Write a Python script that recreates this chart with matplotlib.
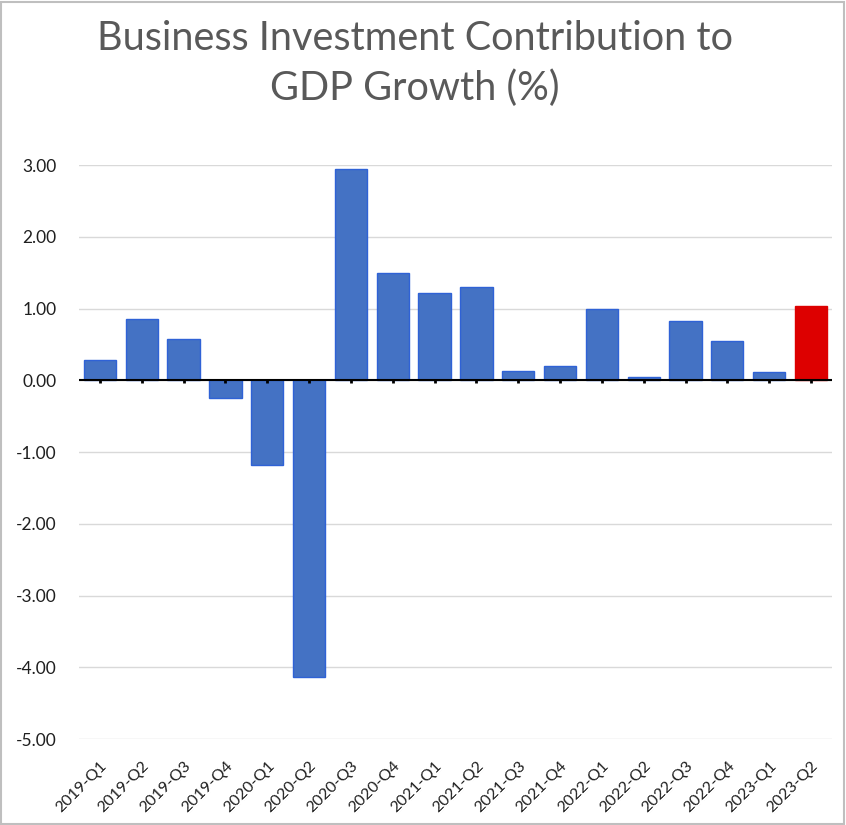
import numpy as np
import matplotlib.pyplot as plt
from matplotlib.patches import Rectangle

# Quarter labels and contributions (percentage points)
quarters = ['2019-Q1', '2019-Q2', '2019-Q3', '2019-Q4',
            '2020-Q1', '2020-Q2', '2020-Q3', '2020-Q4',
            '2021-Q1', '2021-Q2', '2021-Q3', '2021-Q4',
            '2022-Q1', '2022-Q2', '2022-Q3', '2022-Q4',
            '2023-Q1', '2023-Q2']
contrib = [0.28, 0.85, 0.58, -0.25,
           -1.18, -4.14, 2.94, 1.49,
           1.21, 1.30, 0.13, 0.20,
           1.00, 0.04, 0.83, 0.55,
           0.12, 1.03]
yticks = [3, 2, 1, 0, -1, -2, -3, -4, -5]

plt.rcParams['font.family'] = ['Lato', 'DejaVu Sans']

fig = plt.figure(figsize=(8.46, 8.25), dpi=100)
ax = fig.add_axes([0.0934, 0.1042, 0.890, 0.6958])

x = np.arange(len(quarters))
colors = ['#4472C4'] * (len(quarters) - 1) + ['#DD0000']
edges = ['#2F62D6'] * (len(quarters) - 1) + ['#DD0000']
ax.bar(x, contrib, width=0.77, color=colors, edgecolor=edges, linewidth=1, zorder=3)

ax.set_xlim(-0.5, len(quarters) - 0.5)
ax.set_ylim(-5, 3)
ax.set_yticks(yticks)
ax.set_yticklabels(['%.2f' % v for v in yticks], fontsize=12.5, color='#1F1F1F')
ax.yaxis.grid(True, color='#D9D9D9', linewidth=1, zorder=0)
ax.tick_params(axis='y', length=0, pad=16)

# zero line with little category ticks
ax.axhline(0, color='black', linewidth=1.5, zorder=4)
ax.set_xticks(x)
ax.set_xticklabels(quarters, rotation=45, ha='right', rotation_mode='anchor',
                   fontsize=11.5, color='#1F1F1F')
ax.tick_params(axis='x', length=0, pad=14)
ax.plot(x, [0] * len(x), linestyle='none', marker=3, markersize=2.5,
        color='black', zorder=5, clip_on=False, markeredgewidth=2)

for s in ax.spines.values():
    s.set_visible(False)

fig.text(0.49, 0.976, 'Business Investment Contribution to\nGDP Growth (%)',
         ha='center', va='top', fontsize=28.5, color='#595959', linespacing=1.4)

# light outer frame
fig.patches.append(Rectangle((0.001, 0.001), 0.997, 0.997, transform=fig.transFigure,
                             fill=False, edgecolor='#BFBFBF', linewidth=1.5))

plt.savefig('out.png', dpi=100)
